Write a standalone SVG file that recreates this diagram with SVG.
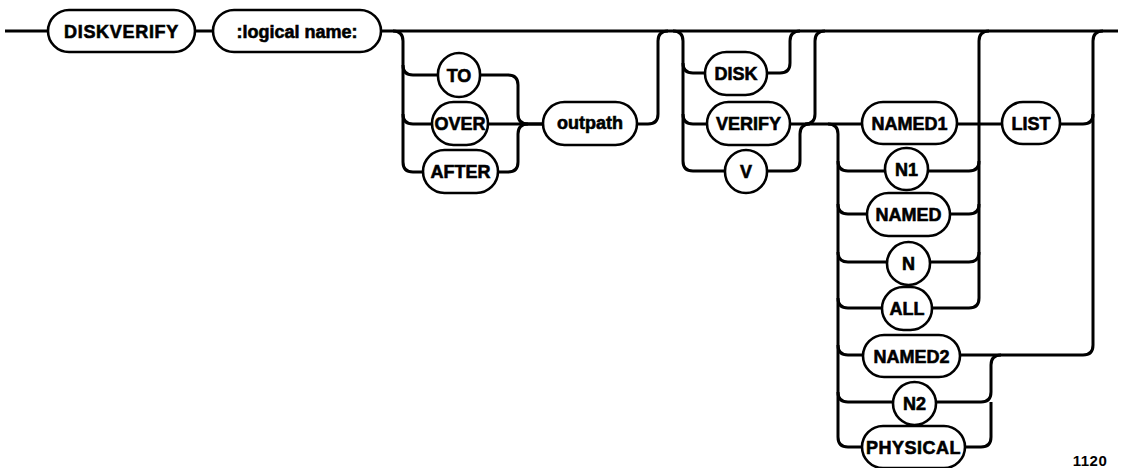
<svg xmlns="http://www.w3.org/2000/svg" width="1121" height="468" viewBox="0 0 1121 468">
<style>
.bg{fill:#fff}
.box{fill:#fff;stroke:#000;stroke-width:2.6}
.t{font-family:"Liberation Sans",Arial,sans-serif;font-weight:bold;font-size:18px;fill:#000;stroke:#000;stroke-width:0.6;text-anchor:middle}
.c{fill:none;stroke:#000;stroke-width:3;stroke-linecap:butt;stroke-linejoin:round}
.lbl{font-family:"Liberation Sans",Arial,sans-serif;font-weight:bold;font-size:15px;fill:#000;text-anchor:middle}
</style>
<rect class="bg" x="0" y="0" width="1121" height="468"/>
<g id="connectors">
<path class="c" d="M5,31 H48 M195,31 H213 M381,31 H1118"/>
<path class="c" d="M393,31 Q403,31 403,41 V162 Q403,172 413,172 H423"/>
<path class="c" d="M403,65 Q403,75 413,75 H438"/>
<path class="c" d="M403,114 Q403,124 413,124 H432"/>
<path class="c" d="M480,75 H508 Q518,75 518,85 V114 Q518,124 528,124 H543"/>
<path class="c" d="M488,124 H543"/>
<path class="c" d="M498,172 H508 Q518,172 518,162 V134 Q518,124 528,124"/>
<path class="c" d="M637,124 H648 Q658,124 658,114 V41 Q658,31 668,31"/>
<path class="c" d="M673,31 Q683,31 683,41 V161 Q683,171 693,171 H725"/>
<path class="c" d="M683,63 Q683,73 693,73 H705"/>
<path class="c" d="M683,114 Q683,124 693,124 H707"/>
<path class="c" d="M767,73 H780 Q790,73 790,63 V41 Q790,31 800,31"/>
<path class="c" d="M825,31 Q815,31 815,41 V114 Q815,124 805,124"/>
<path class="c" d="M767,171 H790 Q800,171 800,161 V134 Q800,124 810,124"/>
<path class="c" d="M790,124 H862"/>
<path class="c" d="M828,124 Q838,124 838,134 V437 Q838,447 848,447 H862"/>
<path class="c" d="M838,161 Q838,171 848,171 H885"/>
<path class="c" d="M838,204 Q838,214 848,214 H867"/>
<path class="c" d="M838,252 Q838,262 848,262 H887"/>
<path class="c" d="M838,298 Q838,308 848,308 H882"/>
<path class="c" d="M838,345 Q838,355 848,355 H863"/>
<path class="c" d="M838,392 Q838,402 848,402 H893"/>
<path class="c" d="M989,31 Q979,31 979,41 V298 Q979,308 969,308 H932"/>
<path class="c" d="M928,171 H969 Q979,171 979,161"/>
<path class="c" d="M950,214 H969 Q979,214 979,204"/>
<path class="c" d="M930,262 H969 Q979,262 979,252"/>
<path class="c" d="M957,124 H1002"/>
<path class="c" d="M1060,124 H1083 Q1093,124 1093,114"/>
<path class="c" d="M960,355 H1083 Q1093,355 1093,345 V41 Q1093,31 1103,31"/>
<path class="c" d="M936,402 H981 Q991,402 991,392 V365 Q991,355 1001,355"/>
<path class="c" d="M965,447 H981 Q991,447 991,437 V402"/>
</g>
<g id="n-diskverify"><rect class="box" x="48" y="10" width="147" height="42" rx="21"/><text class="t" x="121.5" y="37.5" letter-spacing="0.7">DISKVERIFY</text></g>
<g id="n-logical"><rect class="box" x="213" y="10" width="168" height="42" rx="21"/><text class="t" x="297" y="37.5">:logical name:</text></g>
<g id="n-to"><rect class="box" x="438" y="53" width="42" height="44" rx="21"/><text class="t" x="459" y="81.5">TO</text></g>
<g id="n-over"><rect class="box" x="432" y="102" width="56" height="43" rx="21.5"/><text class="t" x="460" y="130">OVER</text></g>
<g id="n-after"><rect class="box" x="423" y="150" width="75" height="43" rx="21.5"/><text class="t" x="460.5" y="178">AFTER</text></g>
<g id="n-outpath"><rect class="box" x="543" y="102" width="94" height="43" rx="21.5"/><text class="t" x="590" y="129">outpath</text></g>
<g id="n-disk"><rect class="box" x="705" y="52" width="62" height="43" rx="21.5"/><text class="t" x="736" y="80">DISK</text></g>
<g id="n-verify"><rect class="box" x="707" y="102" width="83" height="43" rx="21.5"/><text class="t" x="748.5" y="130">VERIFY</text></g>
<g id="n-v"><rect class="box" x="725" y="150" width="42" height="43" rx="21"/><text class="t" x="746" y="178">V</text></g>
<g id="n-named1"><rect class="box" x="862" y="102" width="95" height="42" rx="21"/><text class="t" x="909.5" y="129.5">NAMED1</text></g>
<g id="n-n1"><rect class="box" x="885" y="148" width="43" height="42" rx="21"/><text class="t" x="906.5" y="175.5">N1</text></g>
<g id="n-named"><rect class="box" x="867" y="193" width="83" height="43" rx="21.5"/><text class="t" x="908.5" y="221">NAMED</text></g>
<g id="n-n"><rect class="box" x="887" y="242" width="43" height="43" rx="21.5"/><text class="t" x="908.5" y="270">N</text></g>
<g id="n-all"><rect class="box" x="882" y="287" width="50" height="43" rx="21.5"/><text class="t" x="907" y="315">ALL</text></g>
<g id="n-named2"><rect class="box" x="863" y="335" width="97" height="42" rx="21"/><text class="t" x="911.5" y="362.5">NAMED2</text></g>
<g id="n-n2"><rect class="box" x="893" y="382" width="43" height="43" rx="21.5"/><text class="t" x="914.5" y="410">N2</text></g>
<g id="n-physical"><rect class="box" x="862" y="426" width="103" height="42" rx="21"/><text class="t" x="913.5" y="454" letter-spacing="0.5">PHYSICAL</text></g>
<g id="n-list"><rect class="box" x="1002" y="102" width="58" height="42" rx="21"/><text class="t" x="1031" y="129.5">LIST</text></g>
<text class="lbl" x="1090" y="466" letter-spacing="0.5">1120</text>
</svg>
